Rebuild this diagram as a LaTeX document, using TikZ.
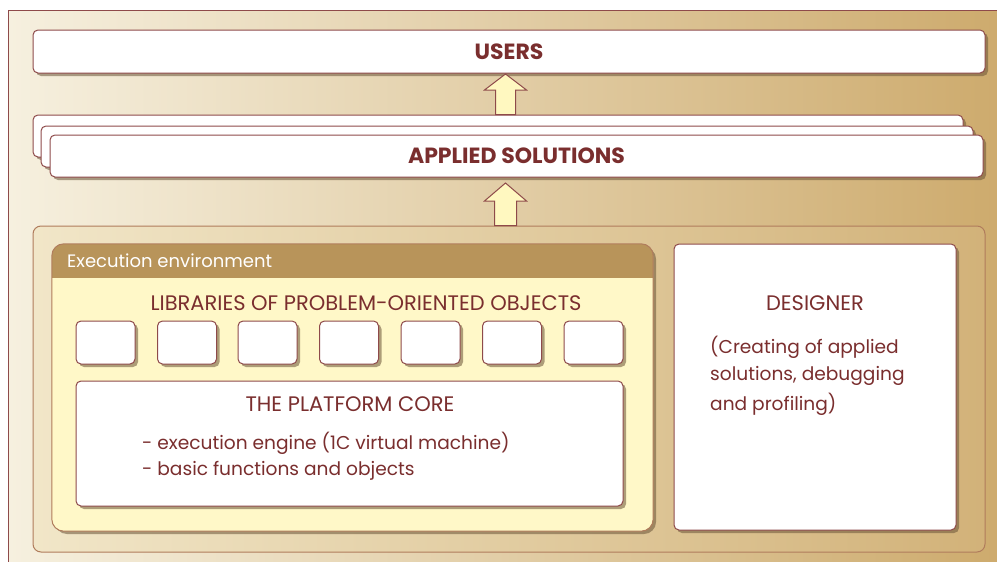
\documentclass[tikz,border=0pt]{standalone}
\usepackage{fontspec}
\setmainfont{Poppins}
\usetikzlibrary{shadows,calc}
\definecolor{maroon}{HTML}{7A2E2E}
\definecolor{edge}{HTML}{8E4A4A}
\definecolor{bgL}{HTML}{F6F0DF}
\definecolor{bgR}{HTML}{CDAA6C}
\definecolor{panL}{HTML}{F1E6C8}
\definecolor{panR}{HTML}{D2B279}
\definecolor{panedge}{HTML}{B07C5C}
\definecolor{hdr}{HTML}{B8945A}
\definecolor{envbody}{HTML}{FFF8C8}
\definecolor{arrfill}{HTML}{FFF8C0}
\definecolor{shadowc}{HTML}{6A5438}
\begin{document}
\begin{tikzpicture}[x=1pt,y=-1pt,
  shd/.style={drop shadow={shadow xshift=3pt,shadow yshift=-3pt,fill=shadowc,opacity=0.55}},
  box/.style={draw=edge,line width=1pt,fill=white,rounded corners=5pt,shd,inner sep=0pt},
  lbl/.style={text=maroon,inner sep=0pt,font=\fontsize{18.6}{22}\selectfont},
  clbl/.style={text=maroon,inner sep=0pt,font=\fontsize{21}{24}\selectfont},
  blbl/.style={text=maroon,inner sep=0pt,font=\fontsize{22}{26}\selectfont\bfseries},
  arr/.style={draw=edge,line width=1pt,fill=arrfill,line join=miter}
]
\useasboundingbox (0,0) rectangle (997,562);
% outer frame
\path[left color=bgL,right color=bgR,draw=edge,line width=1pt] (8,10) rectangle (1010,575);

% users
\node[box,minimum width=952,minimum height=43] (users) at (509,51.5) {};
\node[blbl] (userst) at (users.center) {USERS};

% applied solutions stack
\node[box,minimum width=930,minimum height=42] (app3) at (498,136) {};
\node[box,minimum width=932,minimum height=41] (app2) at (507,146.5) {};
\node[box,minimum width=933,minimum height=42] (app1) at (516.5,156) {};
\node[blbl] (appt) at (app1.center) {APPLIED SOLUTIONS};

% lower panel
\node[draw=panedge,line width=1pt,left color=panL,right color=panR,rounded corners=8pt,
      minimum width=952,minimum height=326,inner sep=0pt] (lower) at (509,389) {};

% arrows
\coordinate (t1) at (505.5,74);
\coordinate (t2) at (505.5,183);
\draw[arr] let \p1=(t1), \p2=(app3.north) in
  (\x1-10pt,\y2) -- (\x1-10pt,\y1-16pt) -- (\x1-21pt,\y1-16pt) -- (\x1,\y1)
  -- (\x1+21pt,\y1-16pt) -- (\x1+10pt,\y1-16pt) -- (\x1+10pt,\y2) -- cycle;
\draw[arr] let \p1=(t2), \p2=(lower.north) in
  (\x1-11pt,\y2) -- (\x1-11pt,\y1-18pt) -- (\x1-21pt,\y1-18pt) -- (\x1,\y1)
  -- (\x1+21pt,\y1-18pt) -- (\x1+11pt,\y1-18pt) -- (\x1+11pt,\y2) -- cycle;

% execution environment
\node[fill=envbody,rounded corners=12pt,shd,minimum width=601,minimum height=287,inner sep=0pt] (env) at (352.5,387.5) {};
\begin{scope}
  \clip[rounded corners=12pt] (env.south west) rectangle (env.north east);
  \fill[hdr] (env.north west) rectangle ([yshift=-34pt]env.north east);
\end{scope}
\draw[draw=panedge,line width=1pt,rounded corners=12pt] (env.south west) rectangle (env.north east);
\node[anchor=west,inner sep=0pt,text=white,font=\fontsize{18}{21}\selectfont] (envt) at (67,261) {Execution environment};

\node[clbl] (libt) at (366,303) {LIBRARIES OF PROBLEM-ORIENTED OBJECTS};
\foreach \i/\x in {1/105.5,2/187,3/267.5,4/349,5/430.5,6/512,7/593.5}{
  \node[box,minimum width=59,minimum height=43] (lib\i) at (\x,342.5) {};
}
\node[box,minimum width=547,minimum height=125] (core) at (349.5,443.5) {};
\node[clbl] (coret) at (350,404) {THE PLATFORM CORE};
\node[lbl,anchor=west] (core1) at (142,443) {- execution engine (1C virtual machine)};
\node[lbl,anchor=west] (core2) at (142,471) {- basic functions and objects};

% designer
\node[box,minimum width=282,minimum height=286] (des) at (815,387) {};
\node[clbl] (dest) at (815,303) {DESIGNER};
\node[lbl,anchor=west] (des1) at (710,347) {(Creating of applied};
\node[lbl,anchor=west] (des2) at (710,375.5) {solutions, debugging};
\node[lbl,anchor=west] (des3) at (710,404) {and profiling)};
\end{tikzpicture}
\end{document}
